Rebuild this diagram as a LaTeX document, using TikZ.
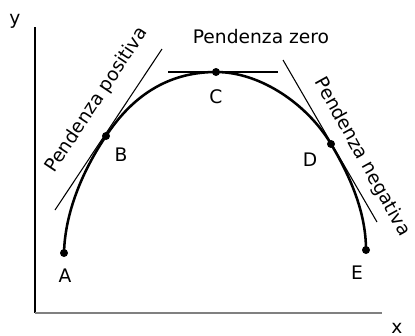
\documentclass[tikz,border=0pt]{standalone}
\usepackage{fontspec}
\setmainfont{DejaVu Sans}
\usetikzlibrary{positioning}
\tikzset{
  asse/.style={line width=0.9pt},
  assex/.style={line width=1.3pt,gray},
  curva/.style={line width=1.9pt},
  tang/.style={line width=0.8pt},
  pt/.style={circle,fill,inner sep=0pt,minimum size=6pt},
  lab/.style={font=\fontsize{14}{16}\selectfont,inner sep=1pt}
}
\begin{document}
\begin{tikzpicture}[x=0.75pt,y=-0.75pt]
\useasboundingbox (0,0) rectangle (415,336);
% assi
\coordinate (O) at (35,313);
\coordinate (ytop) at (35,27);
\coordinate (xend) at (382,313);
\draw[asse] (ytop) -- (O);
\draw[assex] (O) -- (xend);
\node[lab] (ylab) at (15,21) {y};
\node[lab] (xlab) at (397,328) {x};
% punti della curva
\node[pt] (A) at (64,253) {};
\node[pt] (B) at (106,136) {};
\node[pt] (C) at (216,72) {};
\node[pt] (D) at (331,144) {};
\node[pt] (E) at (366,250) {};
\draw[curva] (A.center) .. controls (65,212) and (83,170) .. (B.center)
  .. controls (131,98) and (166,72) .. (C.center)
  .. controls (261,72) and (308,105) .. (D.center)
  .. controls (350,176) and (366,212) .. (E.center);
% tangenti
\coordinate (tb1) at (55,210); \coordinate (tb2) at (162,49);
\coordinate (tc1) at (168,72); \coordinate (tc2) at (278,72);
\coordinate (td1) at (283,60); \coordinate (td2) at (377,222);
\draw[tang] (tb1) -- (tb2);
\draw[tang] (tc1) -- (tc2);
\draw[tang] (td1) -- (td2);
% etichette
\node[lab] (Alab) at (65,276) {A};
\node[lab] (Blab) at (121,155) {B};
\node[lab] (Clab) at (216,97) {C};
\node[lab] (Dlab) at (310,160) {D};
\node[lab] (Elab) at (357,273) {E};
\node[lab] (pzero) at (261,37) {Pendenza zero};
\node[lab,rotate=56.4] (ppos) at (97,100) {Pendenza positiva};
\node[lab,rotate=-61] (pneg) at (362,157) {Pendenza negativa};
\end{tikzpicture}
\end{document}
